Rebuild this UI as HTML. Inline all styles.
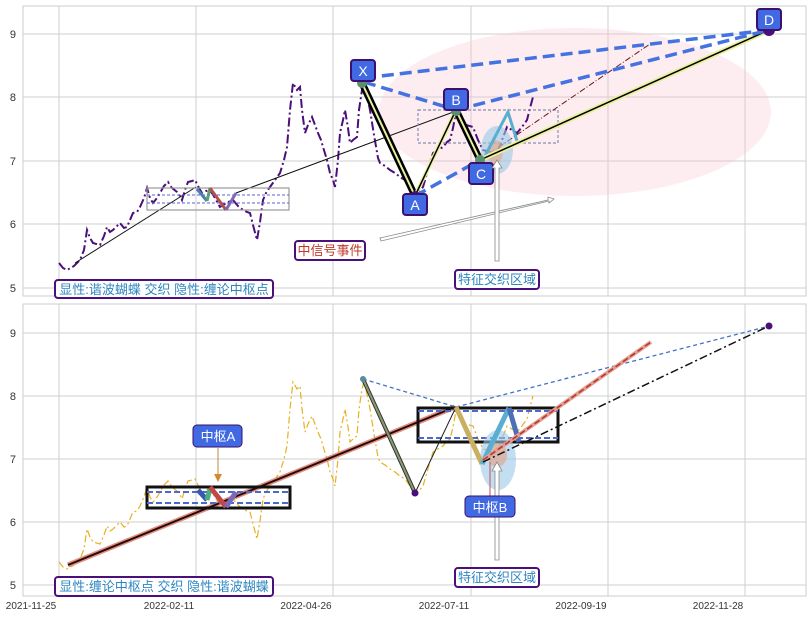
<!DOCTYPE html>
<html><head><meta charset="utf-8"><style>
html,body{margin:0;padding:0;background:#fff;}
svg{display:block;font-family:"Liberation Sans","Noto Sans CJK SC",sans-serif;}
</style></head><body>
<svg width="811" height="617" viewBox="0 0 811 617" xmlns="http://www.w3.org/2000/svg">
<defs>
<marker id="ah" markerWidth="8" markerHeight="8" refX="4" refY="4" orient="auto"><path d="M0,0 L8,4 L0,8 z" fill="#d08a30"/></marker>
<path id="price" d="M59,263 L63,268 L67,270 L74,266 L80,260 L84,250 L87,230 L90,238 L93,243 L100,245 L104,236 L107,227 L110,232 L113,230 L117,226 L120,223 L124,228 L127,227 L130,220 L133,213 L137,212 L140,207 L144,198 L147,188 L150,198 L153,203 L157,198 L160,193 L164,186 L168,182 L172,188 L177,192 L180,196 L182,200 L185,190 L188,182 L192,181 L195,180 L199,188 L202,193 L206,191 L210,190 L215,198 L220,207 L226,203 L233,200 L238,206 L243,210 L247,212 L250,213 L253,225 L257,240 L260,222 L263,200 L266,193 L270,187 L275,180 L280,173 L284,160 L287,147 L290,110 L293,83 L297,90 L300,87 L302,110 L305,133 L308,125 L312,117 L315,125 L318,133 L321,140 L323,147 L327,160 L330,173 L333,180 L335,187 L338,160 L340,133 L343,120 L345,110 L348,128 L350,143 L353,140 L357,137 L359,110 L362,90 L364,83 L367,95 L370,110 L374,135 L378,158 L380,163 L385,166 L390,170 L395,173 L400,177 L405,180 L410,187 L415,196 L419,192 L423,187 L428,170 L433,153 L438,150 L443,147 L447,142 L450,140 L453,128 L456,112 L460,120 L466,125 L473,127 L478,140 L483,150 L490,152 L497,153 L502,140 L507,127 L512,130 L517,133 L522,127 L527,120 L530,108 L533,97"/>
</defs>

<!-- ===== TOP PANEL ===== -->
<rect x="23" y="6" width="783" height="290" fill="#fff" stroke="#ccc"/>
<g stroke="#cfcfcf" stroke-width="1">
<line x1="23" y1="34" x2="806" y2="34"/><line x1="23" y1="97" x2="806" y2="97"/><line x1="23" y1="161" x2="806" y2="161"/><line x1="23" y1="224" x2="806" y2="224"/><line x1="23" y1="288" x2="806" y2="288"/>
<line x1="59" y1="6" x2="59" y2="296"/><line x1="196" y1="6" x2="196" y2="296"/><line x1="333" y1="6" x2="333" y2="296"/><line x1="471" y1="6" x2="471" y2="296"/><line x1="608" y1="6" x2="608" y2="296"/><line x1="745" y1="6" x2="745" y2="296"/>
</g>
<g font-size="11" fill="#333" text-anchor="end">
<text x="16" y="38">9</text><text x="16" y="101">8</text><text x="16" y="165">7</text><text x="16" y="228">6</text><text x="16" y="292">5</text>
</g>
<ellipse cx="575" cy="112" rx="196" ry="84" fill="#f7c5cc" opacity="0.3"/>
<use href="#price" fill="none" stroke="#4b0f7a" stroke-width="2" stroke-dasharray="9,3,2,3"/>
<polyline points="75,263 196,187" stroke="#111" fill="none" stroke-width="1"/>
<polyline points="236,193 456,111" stroke="#111" fill="none" stroke-width="1"/>
<rect x="147" y="188" width="142" height="22" fill="none" stroke="#999" stroke-width="1.2"/>
<line x1="147" y1="195" x2="289" y2="195" stroke="#5566cc" stroke-dasharray="3,2"/>
<line x1="147" y1="203" x2="289" y2="203" stroke="#5566cc" stroke-dasharray="3,2"/>
<polyline points="197,189 207,201" stroke="#4a7fb0" stroke-width="3" fill="none"/>
<polyline points="207,201 210,188" stroke="#5aa070" stroke-width="3" fill="none"/>
<polyline points="210,188 226,210" stroke="#b05050" stroke-width="3" fill="none"/>
<polyline points="226,210 236,193" stroke="#7a6ab8" stroke-width="3" fill="none"/>
<rect x="418" y="110" width="140" height="33" fill="none" stroke="#8890b0" stroke-dasharray="3,2" stroke-width="1.2"/>
<line x1="480" y1="160" x2="650" y2="44" stroke="#6b1a1a" stroke-width="1" stroke-dasharray="6,2,1,2"/>
<ellipse cx="497" cy="150" rx="16" ry="24" fill="#9cc8e8" opacity="0.6"/>
<ellipse cx="495" cy="152" rx="8" ry="12" fill="#f0a070" opacity="0.5"/>
<polyline points="484,158 508,112 517,141" stroke="#5aaed0" stroke-width="3" fill="none"/>
<line x1="362" y1="83" x2="415" y2="196" stroke="#000" stroke-width="7"/><line x1="362" y1="83" x2="415" y2="196" stroke="#e8f0a0" stroke-width="2"/>
<line x1="415" y1="196" x2="456" y2="110" stroke="#e8f0a0" stroke-width="4"/><line x1="415" y1="196" x2="456" y2="110" stroke="#000" stroke-width="1.5"/>
<line x1="456" y1="110" x2="480" y2="160" stroke="#000" stroke-width="7"/><line x1="456" y1="110" x2="480" y2="160" stroke="#e8f0a0" stroke-width="2"/>
<line x1="480" y1="160" x2="769" y2="30" stroke="#e8f0a0" stroke-width="5"/><line x1="480" y1="160" x2="769" y2="30" stroke="#000" stroke-width="1.5"/>
<g stroke="#4472e0" stroke-width="3.5" stroke-dasharray="12,6" fill="none">
<line x1="364" y1="78" x2="769" y2="30"/><line x1="364" y1="82" x2="456" y2="110"/><line x1="456" y1="110" x2="769" y2="30"/><line x1="415" y1="196" x2="480" y2="160"/>
</g>
<circle cx="362" cy="83" r="5" fill="#5a9070"/><circle cx="415" cy="196" r="5" fill="#4b0f7a"/><circle cx="456" cy="111" r="5" fill="#5a9070"/><circle cx="480" cy="160" r="5" fill="#5a9070"/><circle cx="769" cy="30" r="6" fill="#4b0f7a"/>
<g font-size="14" fill="#fff" text-anchor="middle">
<rect x="351" y="60" width="24" height="21" rx="3" fill="#4169e1" stroke="#3a1070" stroke-width="2"/><text x="363" y="76">X</text>
<rect x="403" y="194" width="24" height="21" rx="3" fill="#4169e1" stroke="#3a1070" stroke-width="2"/><text x="415" y="210">A</text>
<rect x="444" y="89" width="24" height="21" rx="3" fill="#4169e1" stroke="#3a1070" stroke-width="2"/><text x="456" y="105">B</text>
<rect x="469" y="163" width="24" height="21" rx="3" fill="#4169e1" stroke="#3a1070" stroke-width="2"/><text x="481" y="179">C</text>
<rect x="757" y="9" width="24" height="21" rx="3" fill="#4169e1" stroke="#3a1070" stroke-width="2"/><text x="769" y="25">D</text>
</g>
<polygon points="380,238 548,200 548,197 554,199 549,203 549,201 381,241" fill="#fff" stroke="#888" stroke-width="0.8"/>
<polygon points="495,261 495,168 492,168 497,160 502,168 499,168 499,261" fill="#fff" stroke="#888" stroke-width="0.8"/>
<rect x="295" y="241" width="70" height="19" rx="3" fill="#fff" stroke="#4b0f7a" stroke-width="2"/>
<text x="330" y="255" font-size="13" fill="#c0392b" text-anchor="middle">中信号事件</text>
<rect x="455" y="270" width="84" height="19" rx="3" fill="#fff" stroke="#4b0f7a" stroke-width="2"/>
<text x="497" y="284" font-size="13" fill="#2e86c1" text-anchor="middle">特征交织区域</text>
<rect x="55" y="280" width="218" height="18" rx="3" fill="#fff" stroke="#4b0f7a" stroke-width="2"/>
<text x="164" y="294" font-size="13" fill="#2e86c1" text-anchor="middle">显性:谐波蝴蝶 交织 隐性:缠论中枢点</text>

<!-- ===== BOTTOM PANEL ===== -->
<rect x="23" y="304" width="783" height="292" fill="#fff" stroke="#ccc"/>
<g stroke="#cfcfcf" stroke-width="1">
<line x1="23" y1="333" x2="806" y2="333"/><line x1="23" y1="396" x2="806" y2="396"/><line x1="23" y1="459" x2="806" y2="459"/><line x1="23" y1="522" x2="806" y2="522"/><line x1="23" y1="585" x2="806" y2="585"/>
<line x1="59" y1="304" x2="59" y2="596"/><line x1="196" y1="304" x2="196" y2="596"/><line x1="333" y1="304" x2="333" y2="596"/><line x1="471" y1="304" x2="471" y2="596"/><line x1="608" y1="304" x2="608" y2="596"/><line x1="745" y1="304" x2="745" y2="596"/>
</g>
<g font-size="11" fill="#333" text-anchor="end">
<text x="16" y="337">9</text><text x="16" y="400">8</text><text x="16" y="463">7</text><text x="16" y="526">6</text><text x="16" y="589">5</text>
</g>
<g transform="translate(0,299)"><use href="#price" fill="none" stroke="#e8b020" stroke-width="1.2" stroke-dasharray="7,3,2,3"/></g>
<line x1="68" y1="565" x2="455" y2="407" stroke="#e09080" stroke-width="5"/><line x1="68" y1="565" x2="455" y2="407" stroke="#2a0a0a" stroke-width="2"/>
<rect x="147" y="487" width="143" height="21" fill="none" stroke="#111" stroke-width="3"/>
<line x1="147" y1="492" x2="290" y2="492" stroke="#4a6ad0" stroke-width="2" stroke-dasharray="6,3"/>
<line x1="147" y1="503" x2="290" y2="503" stroke="#4a6ad0" stroke-width="2" stroke-dasharray="6,3"/>
<polyline points="198,490 207,500" stroke="#3a5ab0" stroke-width="5" fill="none"/>
<polyline points="207,500 210,489" stroke="#4ab080" stroke-width="5" fill="none"/>
<polyline points="210,487 226,507" stroke="#c04848" stroke-width="5" fill="none"/>
<polyline points="226,507 236,492" stroke="#7a6ab8" stroke-width="5" fill="none"/>
<line x1="218" y1="448" x2="218" y2="478" stroke="#c08840" stroke-width="1" marker-end="url(#ah)"/>
<rect x="193" y="425" width="49" height="22" rx="4" fill="#4169e1" stroke="#3a1070" stroke-width="1"/>
<text x="218" y="441" font-size="13" fill="#fff" text-anchor="middle">中枢A</text>
<rect x="418" y="408" width="140" height="34" fill="none" stroke="#111" stroke-width="3"/>
<line x1="418" y1="411" x2="558" y2="411" stroke="#4a6ad0" stroke-width="2" stroke-dasharray="6,3"/>
<line x1="418" y1="438" x2="558" y2="438" stroke="#4a6ad0" stroke-width="2" stroke-dasharray="6,3"/>
<ellipse cx="498" cy="460" rx="18" ry="30" fill="#9cc8e8" opacity="0.6"/>
<ellipse cx="497" cy="455" rx="10" ry="12" fill="#e8a080" opacity="0.6"/>
<line x1="363" y1="379" x2="415" y2="493" stroke="#333" stroke-width="4"/><line x1="363" y1="379" x2="415" y2="493" stroke="#8a9a70" stroke-width="2"/>
<line x1="415" y1="493" x2="456" y2="407" stroke="#222" stroke-width="1"/>
<line x1="363" y1="379" x2="456" y2="407" stroke="#4472c4" stroke-width="1.3" stroke-dasharray="4,3"/>
<line x1="456" y1="407" x2="769" y2="326" stroke="#4472c4" stroke-width="1.3" stroke-dasharray="4,3"/>
<polyline points="456,407 482,464" stroke="#c8b060" stroke-width="5" fill="none"/>
<polyline points="482,464 509,408" stroke="#5aaed0" stroke-width="5" fill="none"/>
<polyline points="509,408 519,442" stroke="#4a70b8" stroke-width="5" fill="none"/>
<line x1="483" y1="460" x2="651" y2="342" stroke="#e0a090" stroke-width="4"/><line x1="483" y1="460" x2="651" y2="342" stroke="#c03030" stroke-width="1.5" stroke-dasharray="6,3"/>
<line x1="483" y1="462" x2="769" y2="326" stroke="#111" stroke-width="1.5" stroke-dasharray="8,3,2,3"/>
<circle cx="363" cy="379" r="3" fill="#5a8aa0"/><circle cx="415" cy="493" r="3.5" fill="#4b0f7a"/><circle cx="769" cy="326" r="3.5" fill="#4b0f7a"/>
<line x1="490" y1="496" x2="490" y2="462" stroke="#c05050" stroke-width="1"/>
<polygon points="495,560 495,471 492,471 497,462 502,471 499,471 499,560" fill="#fff" stroke="#888" stroke-width="0.8"/>
<rect x="465" y="496" width="50" height="21" rx="4" fill="#4169e1" stroke="#3a1070" stroke-width="1"/>
<text x="490" y="512" font-size="13" fill="#fff" text-anchor="middle">中枢B</text>
<rect x="455" y="568" width="84" height="19" rx="3" fill="#fff" stroke="#4b0f7a" stroke-width="2"/>
<text x="497" y="582" font-size="13" fill="#2e86c1" text-anchor="middle">特征交织区域</text>
<rect x="55" y="577" width="218" height="19" rx="3" fill="#fff" stroke="#4b0f7a" stroke-width="2"/>
<text x="164" y="591" font-size="13" fill="#2e86c1" text-anchor="middle">显性:缠论中枢点 交织 隐性:谐波蝴蝶</text>
<g font-size="10" fill="#333" text-anchor="middle">
<text x="31" y="609">2021-11-25</text><text x="169" y="609">2022-02-11</text><text x="306" y="609">2022-04-26</text><text x="444" y="609">2022-07-11</text><text x="581" y="609">2022-09-19</text><text x="718" y="609">2022-11-28</text>
</g>
</svg>
</body></html>
